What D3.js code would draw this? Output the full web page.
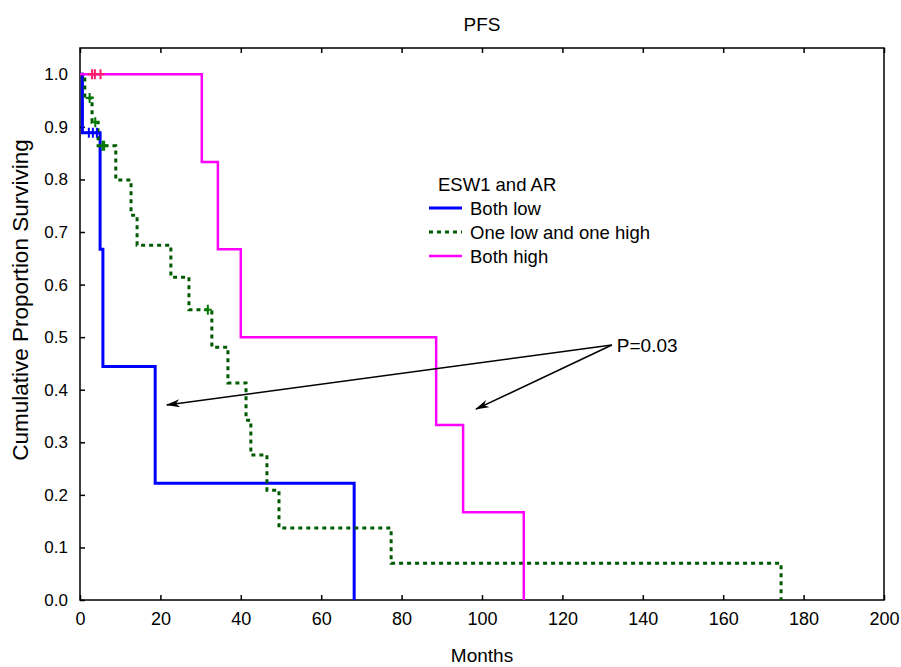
<!DOCTYPE html>
<html>
<head>
<meta charset="utf-8">
<script src="https://cdn.jsdelivr.net/npm/d3@7"></script>
<style>
  body { margin: 0; background: #fff; }
  text { font-family: "Liberation Sans", Arial, sans-serif; fill: #000; }
</style>
</head>
<body>
<svg id="chart"></svg>
<script>
// Kaplan-Meier curves
let bothLowTime = [0, 0.6, 5.0, 5.7, 18.7, 68.2];
let bothLowSurv = [1, 0.889, 0.667, 0.444, 0.222, 0];
let bothLowCens = [2.2, 3.2, 4.2];

let mixedTime = [0, 1.2, 3.0, 4.5, 8.9, 12.7, 14.2, 22.6, 27.1, 32.8, 36.8, 41.3, 42.5, 46.5, 49.5, 77.4, 174.4];
let mixedSurv = [1, 0.955, 0.909, 0.864, 0.799, 0.732, 0.675, 0.614, 0.552, 0.481, 0.413, 0.342, 0.276, 0.209, 0.137, 0.070, 0];
let mixedCens = [2.4, 3.8, 5.6, 6.0, 31.8];

let bothHighTime = [0, 30.3, 34.3, 40.0, 88.6, 95.3, 110.4];
let bothHighSurv = [1, 0.833, 0.667, 0.5, 0.333, 0.167, 0];
let bothHighCens = [3.0, 3.7, 5.1];

let seriesNames = ["Both low", "One low and one high", "Both high"];
let xTicks = [0, 20, 40, 60, 80, 100, 120, 140, 160, 180, 200];
let yTicks = [0, 0.1, 0.2, 0.3, 0.4, 0.5, 0.6, 0.7, 0.8, 0.9, 1.0];

// p-value note and where its arrows point (data units)
let pText = "P=0.03";
let pAt = [132.3, 0.485];
let arrowTo = [[21.6, 0.371], [98.5, 0.363]];

let W = 901, H = 667;
let margin = {top: 48, right: 17, bottom: 67, left: 80};

let svg = d3.select("#chart").attr("width", W).attr("height", H);

let x = d3.scaleLinear().domain([0, 200]).range([margin.left, W - margin.right]);
let y = d3.scaleLinear().domain([0, 1.05]).range([H - margin.bottom, margin.top]);

let series = [
  {name: seriesNames[0], time: bothLowTime, surv: bothLowSurv, cens: bothLowCens, color: "#0000ff", width: 3, dash: null, mark: "#0000ff"},
  {name: seriesNames[1], time: mixedTime, surv: mixedSurv, cens: mixedCens, color: "#005a00", width: 3, dash: "4,4", mark: "#007a00"},
  {name: seriesNames[2], time: bothHighTime, surv: bothHighSurv, cens: bothHighCens, color: "#ff00ff", width: 2.5, dash: null, mark: "#ff1a6a"}
];

// axes: ticks point inward
let xAxis = d3.axisBottom(x).tickValues(xTicks).tickSizeInner(-5).tickSizeOuter(0).tickPadding(12);
let yAxis = d3.axisLeft(y).tickValues(yTicks).tickSizeInner(-5).tickSizeOuter(0).tickPadding(12).tickFormat(d3.format(".1f"));

let gx = svg.append("g").attr("transform", `translate(0,${H - margin.bottom})`).call(xAxis);
gx.select(".domain").remove();
gx.selectAll("line").attr("stroke", "#000").attr("stroke-width", 1.5);
gx.selectAll("text").style("font-size", "18px");

let gy = svg.append("g").attr("transform", `translate(${margin.left},0)`).call(yAxis);
gy.select(".domain").remove();
gy.selectAll("line").attr("stroke", "#000").attr("stroke-width", 1.5);
gy.selectAll("text").style("font-size", "17px");

// top ticks
svg.append("g").attr("transform", `translate(0,${margin.top})`)
  .call(d3.axisTop(x).tickValues(xTicks).tickSizeInner(-5).tickSizeOuter(0).tickFormat(""))
  .call(g => g.select(".domain").remove())
  .selectAll("line").attr("stroke", "#000").attr("stroke-width", 1.5);

// frame
svg.append("rect")
  .attr("x", x(0)).attr("y", y(1.05))
  .attr("width", x(200) - x(0)).attr("height", y(0) - y(1.05))
  .attr("fill", "none").attr("stroke", "#000").attr("stroke-width", 1.5);

// curves
let line = d3.line().curve(d3.curveStepAfter).x(d => x(d[0])).y(d => y(d[1]));

series.forEach(s => {
  let pts = s.time.map((t, i) => [t, s.surv[i]]);
  svg.append("path")
    .datum(pts)
    .attr("d", line)
    .attr("fill", "none")
    .attr("stroke", s.color)
    .attr("stroke-width", s.width)
    .attr("stroke-dasharray", s.dash);
});

// censor marks
function survAt(s, t) {
  let i = d3.bisectRight(s.time, t) - 1;
  return s.surv[Math.max(0, i)];
}
series.forEach(s => {
  svg.append("g").selectAll("path")
    .data(s.cens)
    .join("path")
    .attr("d", t => {
      let cx = x(t), cy = y(survAt(s, t));
      return `M${cx - 4},${cy}H${cx + 4}M${cx},${cy - 5}V${cy + 5}`;
    })
    .attr("stroke", s.mark)
    .attr("stroke-width", 2)
    .attr("fill", "none");
});

// title and axis labels
svg.append("text").attr("x", (x(0) + x(200)) / 2).attr("y", 31)
  .attr("text-anchor", "middle").style("font-size", "19px").text("PFS");
svg.append("text").attr("x", (x(0) + x(200)) / 2).attr("y", 662)
  .attr("text-anchor", "middle").style("font-size", "19px").text("Months");
svg.append("text")
  .attr("transform", "translate(28,300) rotate(-90)")
  .attr("text-anchor", "middle").style("font-size", "22.5px")
  .text("Cumulative Proportion Surviving");

// legend
let lg = svg.append("g").attr("transform", "translate(429,0)");
lg.append("text").attr("x", 9).attr("y", 191).style("font-size", "18.5px").text("ESW1 and AR");
series.forEach((s, i) => {
  let cy = 208 + i * 24;
  lg.append("line").attr("x1", 0).attr("x2", 33).attr("y1", cy).attr("y2", cy)
    .attr("stroke", s.color).attr("stroke-width", s.width).attr("stroke-dasharray", s.dash);
  lg.append("text").attr("x", 41).attr("y", cy + 6.5).style("font-size", "18.5px").text(s.name);
});

// p-value with arrows
svg.append("defs").append("marker")
  .attr("id", "arr")
  .attr("viewBox", "0 0 14 8")
  .attr("refX", 13).attr("refY", 4)
  .attr("markerWidth", 14).attr("markerHeight", 8)
  .attr("markerUnits", "userSpaceOnUse")
  .attr("orient", "auto")
  .append("path").attr("d", "M0,0L14,4L0,8L4,4Z").attr("fill", "#000");

arrowTo.forEach(p => {
  svg.append("line")
    .attr("x1", x(pAt[0])).attr("y1", y(pAt[1]))
    .attr("x2", x(p[0])).attr("y2", y(p[1]))
    .attr("stroke", "#000").attr("stroke-width", 1.5)
    .attr("marker-end", "url(#arr)");
});
svg.append("text").attr("x", x(pAt[0]) + 5).attr("y", y(pAt[1]) + 7)
  .style("font-size", "19px").text(pText);
</script>
</body>
</html>
